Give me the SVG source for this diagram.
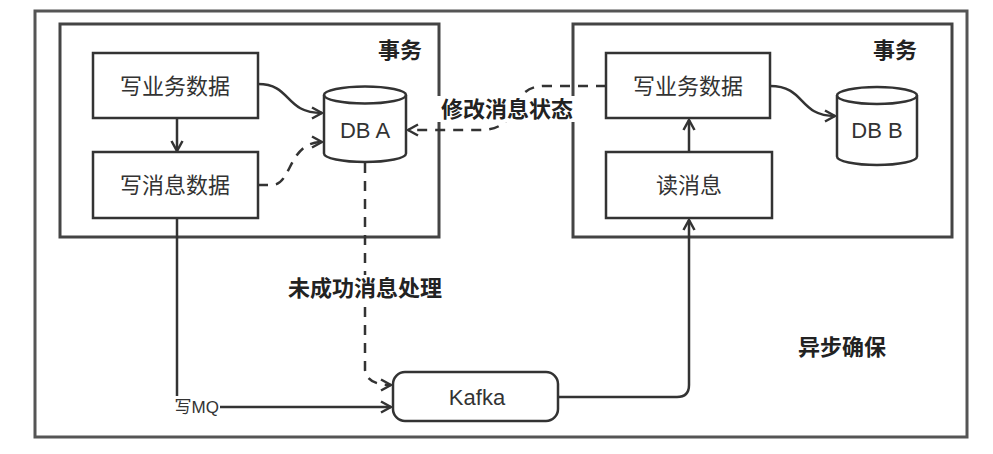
<svg xmlns="http://www.w3.org/2000/svg" width="993" height="454" viewBox="0 0 993 454">
<defs>
<style>
.frame{fill:none;stroke:#555;stroke-width:3}
.tx{fill:none;stroke:#444;stroke-width:3}
.box{fill:#fff;stroke:#333;stroke-width:2.5}
.ln{fill:none;stroke:#333;stroke-width:2.5}
.dash{fill:none;stroke:#333;stroke-width:2.5;stroke-dasharray:10 8}
.t{font-family:"Liberation Sans","Noto Sans CJK SC",sans-serif;fill:#333;text-anchor:middle}
.n{font-size:22px}
.b{font-size:22px;font-weight:bold;fill:#222}
</style>
<marker id="arr" markerUnits="userSpaceOnUse" markerWidth="14" markerHeight="14" viewBox="0 0 14 14" refX="12" refY="7" orient="auto">
<path d="M2,1.5 L12,7 L2,12.5" fill="none" stroke="#333" stroke-width="2.5" stroke-linejoin="miter"/>
</marker>
</defs>
<rect width="993" height="454" fill="#fff"/>
<rect id="outer" class="frame" x="35" y="11" width="932" height="426"/>
<text class="t b" x="842" y="355">异步确保</text>
<g id="txA">
<rect class="tx" x="60" y="24" width="379" height="213"/>
<text class="t b" x="400" y="58">事务</text>
</g>
<g id="txB">
<rect class="tx" x="573" y="24" width="379" height="213"/>
<text class="t b" x="895" y="58">事务</text>
</g>
<g id="connectors">
<path class="ln" d="M258,84 C292,84 284,113 322,113" marker-end="url(#arr)"/>
<path class="dash" d="M258,185 L272,185 C292,185 288,142 322,142" marker-end="url(#arr)"/>
<path class="ln" d="M177,118 L177,151" marker-end="url(#arr)"/>
<path class="dash" d="M606,86 L545,86 C505,86 525,130 480,130 L408,130" marker-end="url(#arr)"/>
<path class="ln" d="M177,218 L177,396"/>
<path class="ln" d="M220,407 L391,407" marker-end="url(#arr)"/>
<path class="dash" d="M365,163 L365,370 Q367,385 391,385" marker-end="url(#arr)"/>
<path class="ln" d="M558,397 L677,397 Q689,397 689,385 L689,220" marker-end="url(#arr)"/>
<path class="ln" d="M689,152 L689,120" marker-end="url(#arr)"/>
<path class="ln" d="M770,86 C806,86 798,116 835,116" marker-end="url(#arr)"/>
<rect x="435" y="96" width="144" height="26" fill="#fff"/>
<text class="t b" x="507" y="117">修改消息状态</text>
<rect x="283" y="275" width="164" height="26" fill="#fff"/>
<text class="t b" x="365" y="296">未成功消息处理</text>
<text class="t" style="font-size:17px;text-anchor:end" x="219" y="413">写MQ</text>
</g>
<g id="n1">
<rect class="box" x="93" y="53" width="165" height="65"/>
<text class="t n" x="175" y="94">写业务数据</text>
</g>
<g id="n2">
<rect class="box" x="93" y="152" width="165" height="66"/>
<text class="t n" x="175" y="193">写消息数据</text>
</g>
<g id="dba">
<path class="box" d="M324,95 L324,153.5 A41,8.5 0 0 0 406,153.5 L406,95 A41,8.5 0 0 0 324,95 Z"/>
<path class="ln" d="M324,95 A41,8.5 0 0 0 406,95"/>
<text class="t" style="font-size:22px" x="365" y="138">DB A</text>
</g>
<g id="n3">
<rect class="box" x="606" y="53" width="164" height="65"/>
<text class="t n" x="688" y="94">写业务数据</text>
</g>
<g id="n4">
<rect class="box" x="606" y="152" width="166" height="66"/>
<text class="t n" x="689" y="193">读消息</text>
</g>
<g id="dbb">
<path class="box" d="M837,95.5 L837,156.5 A40,8.5 0 0 0 917,156.5 L917,95.5 A40,8.5 0 0 0 837,95.5 Z"/>
<path class="ln" d="M837,95.5 A40,8.5 0 0 0 917,95.5"/>
<text class="t" style="font-size:22px" x="877" y="138">DB B</text>
</g>
<g id="kafka">
<rect class="box" x="393" y="372" width="165" height="49" rx="12"/>
<text class="t n" x="477" y="405">Kafka</text>
</g>
</svg>
